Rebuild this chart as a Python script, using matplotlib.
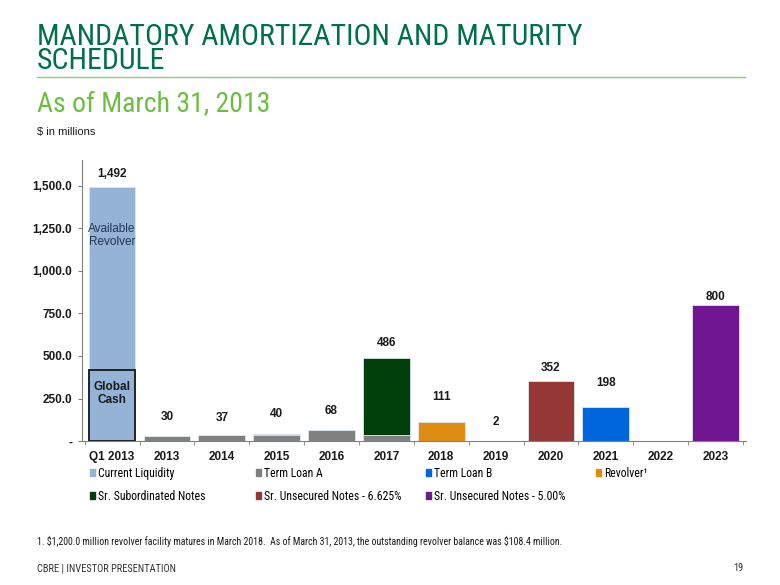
import numpy as np
import matplotlib.pyplot as plt
from matplotlib.patches import Patch

narrow = ['Roboto Condensed', 'DejaVu Sans']
plt.rcParams['font.family'] = ['Liberation Sans', 'DejaVu Sans']

categories = ['Q1 2013', '2013', '2014', '2015', '2016', '2017',
              '2018', '2019', '2020', '2021', '2022', '2023']
global_cash = [418, 0, 0, 0, 0, 0, 0, 0, 0, 0, 0, 0]
available_revolver = [1074, 0, 0, 0, 0, 0, 0, 0, 0, 0, 0, 0]
term_loan_a = [0, 27, 34, 37, 65, 34, 0, 0, 0, 0, 0, 0]
term_loan_b = [0, 3, 3, 3, 3, 2, 2.4, 2, 2, 198, 0, 0]
revolver = [0, 0, 0, 0, 0, 0, 108.4, 0, 0, 0, 0, 0]
sr_sub_notes = [0, 0, 0, 0, 0, 450, 0, 0, 0, 0, 0, 0]
sr_unsec_6625 = [0, 0, 0, 0, 0, 0, 0, 0, 350, 0, 0, 0]
sr_unsec_500 = [0, 0, 0, 0, 0, 0, 0, 0, 0, 0, 0, 800]

c_liq = '#95B3D7'
c_tla = '#808080'
c_tlb = '#0066DD'
c_rev = '#DF8C13'
c_sub = '#003E0A'
c_662 = '#953735'
c_500 = '#6F1690'

fig = plt.figure(figsize=(7.8, 5.85), dpi=100)
ax = fig.add_axes([0.105, 0.246, 0.851, 0.48])

x = np.arange(len(categories))
w = 0.85


def widths(vals, lw):
    return [lw if v > 0 else 0 for v in vals]


bottom = np.zeros(len(categories))
ax.bar(x, global_cash, w, bottom=bottom, color=c_liq, edgecolor='#222222',
       linewidth=widths(global_cash, 1.4), zorder=3)
bottom += global_cash
ax.bar(x, available_revolver, w, bottom=bottom, color=c_liq, edgecolor='#DDE6EE',
       linewidth=widths(available_revolver, 0.6))
bottom += available_revolver
for vals, col in [(term_loan_a, c_tla), (term_loan_b, c_tlb), (revolver, c_rev),
                  (sr_sub_notes, c_sub), (sr_unsec_6625, c_662), (sr_unsec_500, c_500)]:
    ax.bar(x, vals, w, bottom=bottom, color=col, edgecolor='#DDE6EE',
           linewidth=widths(vals, 0.6))
    bottom += vals

label_pad = [6, 12, 10, 13, 12, 8, 18, 12, 6, 17, 0, 1]
for i, tot in enumerate(bottom):
    if tot <= 0:
        continue
    ax.annotate(f'{tot:,.0f}', (x[i], tot), xytext=(0, label_pad[i] + 1),
                textcoords='offset pixels', ha='center', va='bottom',
                fontsize=8.5, fontweight='bold', color='#1a1a1a')

ax.text(0, 1207, 'Available\nRevolver', ha='center', va='center',
        fontsize=8.5, color='#1F3550', linespacing=1.1)
ax.text(0, 280, 'Global\nCash', ha='center', va='center',
        fontsize=8.5, fontweight='bold', color='#1a1a1a', linespacing=1.1)

ax.set_xlim(-0.55, len(categories) - 0.45)
ax.set_ylim(0, 1650)
ax.set_yticks([0, 250, 500, 750, 1000, 1250, 1500])
ax.set_yticklabels(['-', '250.0', '500.0', '750.0', '1,000.0', '1,250.0', '1,500.0'])
ax.set_xticks(x)
ax.set_xticklabels(categories)
ax.set_xticks(np.arange(len(categories) + 1) - 0.5, minor=True)
ax.tick_params(axis='x', which='major', length=0, pad=7)
ax.tick_params(axis='x', which='minor', length=3, color='#808080')
ax.tick_params(axis='y', length=3, color='#808080', pad=4)
for lab in ax.get_xticklabels() + ax.get_yticklabels():
    lab.set_fontsize(8.5)
    lab.set_fontweight('bold')
    lab.set_color('#1a1a1a')
for s in ['top', 'right']:
    ax.spines[s].set_visible(False)
ax.spines['left'].set_color('#808080')
ax.spines['bottom'].set_color('#808080')

# legend, laid out in fixed columns like the original
names = ['Current Liquidity', 'Term Loan A', 'Term Loan B', 'Revolver¹',
         'Sr. Subordinated Notes', 'Sr. Unsecured Notes - 6.625%', 'Sr. Unsecured Notes - 5.00%']
colors = [c_liq, c_tla, c_tlb, c_rev, c_sub, c_662, c_500]
col_x = [0.115, 0.328, 0.546, 0.764]
row_y = [0.191, 0.152]
for k, (name, col) in enumerate(zip(names, colors)):
    r, c = divmod(k, 4)
    fig.legend(handles=[Patch(color=col)], labels=[name], loc='center left',
               bbox_to_anchor=(col_x[c], row_y[r]), frameon=False,
               handlelength=0.45, handleheight=0.45, handletextpad=0.25,
               borderpad=0, borderaxespad=0,
               prop={'family': narrow, 'size': 8.5})

fig.text(0.047, 0.960, 'MANDATORY AMORTIZATION AND MATURITY\nSCHEDULE', ha='left', va='top',
         fontsize=21.5, color='#00704A', family=narrow, linespacing=0.82)
fig.add_artist(plt.Line2D([0.047, 0.955], [0.868, 0.868], color='#8CD06A', lw=1))
fig.text(0.047, 0.822, 'As of March 31, 2013', ha='left', va='center',
         fontsize=20, color='#6ABF3F', family=narrow)
fig.text(0.047, 0.774, '$ in millions', ha='left', va='center', fontsize=8, color='#1a1a1a')

fig.text(0.047, 0.075, r'1. \$1,200.0 million revolver facility matures in March 2018.  As of March 31, 2013, '
         r'the outstanding revolver balance was \$108.4 million.', ha='left', va='center',
         fontsize=7.1, family=narrow, color='#1a1a1a')
fig.text(0.047, 0.029, 'CBRE | INVESTOR PRESENTATION', ha='left', va='center',
         fontsize=7.5, family=narrow, color='#333333')
fig.text(0.953, 0.029, '19', ha='right', va='center', fontsize=7.5, family=narrow, color='#333333')

fig.savefig('out.png', dpi=100)
